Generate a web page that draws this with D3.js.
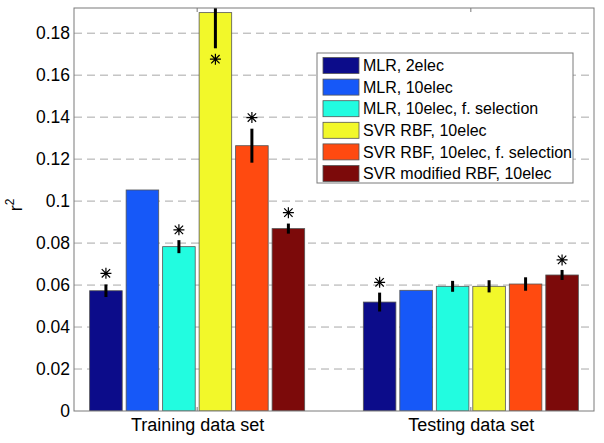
<!DOCTYPE html>
<html>
<head>
<meta charset="utf-8">
<script src="https://cdn.jsdelivr.net/npm/d3@7"></script>
<style>
  html, body { margin: 0; padding: 0; background: #fff; }
  svg { display: block; font-family: "Liberation Sans", Arial, Helvetica, sans-serif; }
</style>
</head>
<body>
<svg id="chart" width="604" height="443"></svg>
<script>
// ---- data ----
const groups = ["Training data set", "Testing data set"];
const seriesNames = [
  "MLR, 2elec",
  "MLR, 10elec",
  "MLR, 10elec, f. selection",
  "SVR RBF, 10elec",
  "SVR RBF, 10elec, f. selection",
  "SVR modified RBF, 10elec"
];
const seriesColors = ["#0c0c8a", "#1658f8", "#22fce0", "#f2f82a", "#ff4a10", "#7c0a0a"];
const trainValues = [0.0573, 0.1053, 0.0783, 0.1898, 0.1264, 0.0869];
const trainErrors = [0.0030, null, 0.0031, 0.0170, 0.0081, 0.0024];
const trainStars  = [0.0656, null, 0.0863, 0.1676, 0.1398, 0.0945];
const testValues  = [0.0519, 0.0575, 0.0594, 0.0594, 0.0605, 0.0648];
const testErrors  = [0.0045, null, 0.0026, 0.0029, 0.0032, 0.0024];
const testStars   = [0.0613, null, null, null, null, 0.0720];
const yTicks = [0, 0.02, 0.04, 0.06, 0.08, 0.1, 0.12, 0.14, 0.16, 0.18];
const yLabels = ["0", "0.02", "0.04", "0.06", "0.08", "0.1", "0.12", "0.14", "0.16", "0.18"];

const valuesByGroup = [trainValues, testValues];
const errorsByGroup = [trainErrors, testErrors];
const starsByGroup  = [trainStars, testStars];

// ---- layout ----
const svg = d3.select("#chart");
const L = 74, R = 594, T = 8, B = 411;
const x = d3.scaleLinear().domain([0.55, 2.45]).range([L, R]);
const y = d3.scaleLinear().domain([0, 0.192]).range([B, T]);
const slot = 0.8 / 6;
const barW = 0.119;
const barCenter = (g, i) => (g + 1) + (i - 2.5) * slot;

svg.append("defs").append("clipPath").attr("id", "plotclip")
  .append("rect").attr("x", L).attr("y", T).attr("width", R - L).attr("height", B - T);

// gridlines
const yAxis = d3.axisLeft(y).tickValues(yTicks).tickFormat((d, i) => yLabels[i]).tickSize(0).tickPadding(4);
svg.append("g").attr("class", "grid")
  .selectAll("line").data(yTicks.filter(d => d > 0)).enter().append("line")
  .attr("x1", L).attr("x2", R).attr("y1", d => y(d)).attr("y2", d => y(d))
  .attr("stroke", "#a8a8a8").attr("stroke-width", 1).attr("stroke-dasharray", "8,5");

// bars
const flat = [];
groups.forEach((gName, g) => {
  seriesNames.forEach((s, i) => {
    flat.push({ g, i, v: valuesByGroup[g][i], e: errorsByGroup[g][i], s: starsByGroup[g][i] });
  });
});

const plot = svg.append("g").attr("clip-path", "url(#plotclip)");
plot.selectAll("rect.bar").data(flat).enter().append("rect")
  .attr("class", "bar")
  .attr("x", d => x(barCenter(d.g, d.i) - barW / 2))
  .attr("width", d => x(barCenter(d.g, d.i) + barW / 2) - x(barCenter(d.g, d.i) - barW / 2))
  .attr("y", d => y(d.v))
  .attr("height", d => y(0) - y(d.v))
  .attr("fill", d => seriesColors[d.i])
  .attr("stroke", "#555").attr("stroke-width", 0.8);

// error bars
plot.selectAll("line.err").data(flat.filter(d => d.e != null)).enter().append("line")
  .attr("class", "err")
  .attr("x1", d => x(barCenter(d.g, d.i))).attr("x2", d => x(barCenter(d.g, d.i)))
  .attr("y1", d => y(d.v - d.e)).attr("y2", d => y(d.v + d.e))
  .attr("stroke", "#000").attr("stroke-width", 3);

// stars (asterisks)
const r = 5.5, rd = 4.2;
const starPath = `M0,${-r}V${r}M${-r},0H${r}M${-rd},${-rd}L${rd},${rd}M${-rd},${rd}L${rd},${-rd}`;
plot.selectAll("path.star").data(flat.filter(d => d.s != null)).enter().append("path")
  .attr("class", "star")
  .attr("transform", d => `translate(${x(barCenter(d.g, d.i))},${y(d.s)})`)
  .attr("d", starPath)
  .attr("fill", "none").attr("stroke", "#000").attr("stroke-width", 1.2);

// axes box
svg.append("rect").attr("x", L).attr("y", T).attr("width", R - L).attr("height", B - T)
  .attr("fill", "none").attr("stroke", "#7a7a7a").attr("stroke-width", 1);

// x tick marks (bottom and top)
[1, 2].forEach(v => {
  svg.append("line").attr("x1", x(v)).attr("x2", x(v)).attr("y1", B).attr("y2", B - 4).attr("stroke", "#7a7a7a");
  svg.append("line").attr("x1", x(v)).attr("x2", x(v)).attr("y1", T).attr("y2", T + 4).attr("stroke", "#7a7a7a");
});

// y axis labels
const ya = svg.append("g").attr("transform", `translate(${L},0)`).call(yAxis);
ya.select(".domain").remove();
ya.selectAll("text").attr("font-size", 17.5).attr("fill", "#000")
  .attr("font-family", "'Liberation Sans', Arial, sans-serif");

// x group labels
const xa = svg.append("g").attr("transform", `translate(0,${B})`)
  .call(d3.axisBottom(x).tickValues([1, 2]).tickFormat((d, i) => groups[i]).tickSize(0).tickPadding(7));
xa.select(".domain").remove();
xa.selectAll("text").attr("font-size", 18).attr("fill", "#000")
  .attr("font-family", "'Liberation Sans', Arial, sans-serif");

// y label r^2
const yl = svg.append("text").attr("transform", "translate(22,205) rotate(-90)")
  .attr("text-anchor", "middle").attr("font-size", 18).attr("fill", "#000");
yl.append("tspan").text("r");
yl.append("tspan").attr("font-size", 12).attr("dy", -8).text("2");

// legend
const lx = 317, ly = 53, lw = 256, lh = 130, rowH = 21.6;
const leg = svg.append("g");
leg.append("rect").attr("x", lx).attr("y", ly).attr("width", lw).attr("height", lh)
  .attr("fill", "#fff").attr("stroke", "#7a7a7a").attr("stroke-width", 1);
const items = leg.selectAll("g.item").data(seriesNames).enter().append("g").attr("class", "item")
  .attr("transform", (d, i) => `translate(${lx + 6},${ly + 4.5 + i * rowH})`);
items.append("rect").attr("width", 36).attr("height", 16)
  .attr("fill", (d, i) => seriesColors[i]).attr("stroke", "#555").attr("stroke-width", 0.8);
items.append("text").attr("x", 40).attr("y", 8).attr("dy", "0.36em")
  .attr("font-size", 16).attr("fill", "#000").text(d => d);
</script>
</body>
</html>
